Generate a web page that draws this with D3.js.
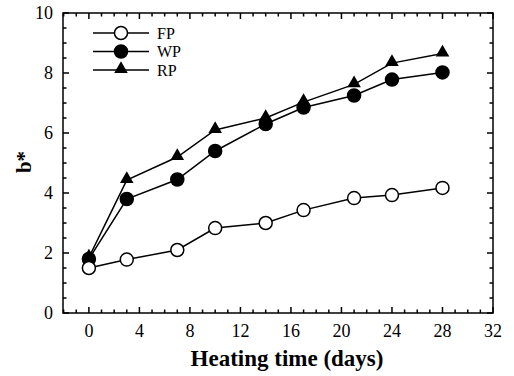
<!DOCTYPE html>
<html>
<head>
<meta charset="utf-8">
<script src="https://cdn.jsdelivr.net/npm/d3@7"></script>
<style>
  body { margin: 0; background: #fff; }
  text { font-family: "Liberation Serif", "DejaVu Serif", serif; fill: #000; }
</style>
</head>
<body>
<div id="chart"></div>
<script>
const days = [0, 3, 7, 10, 14, 17, 21, 24, 28];
const fp = [1.5, 1.78, 2.1, 2.83, 3.0, 3.43, 3.83, 3.93, 4.17];
const wp = [1.8, 3.8, 4.45, 5.4, 6.3, 6.85, 7.25, 7.78, 8.02];
const rp = [1.85, 4.43, 5.2, 6.1, 6.5, 7.03, 7.62, 8.33, 8.65];
const xTicks = [0, 4, 8, 12, 16, 20, 24, 28, 32];
const yTicks = [0, 2, 4, 6, 8, 10];
const seriesNames = ['FP', 'WP', 'RP'];

const width = 514, height = 376;
const margin = { top: 13, right: 21, bottom: 63, left: 63 };
const w = width - margin.left - margin.right;
const h = height - margin.top - margin.bottom;

const svg = d3.select('#chart').append('svg')
  .attr('width', width)
  .attr('height', height);

const x = d3.scaleLinear().domain([-2.05, 32]).range([0, w]);
const y = d3.scaleLinear().domain([0, 10]).range([h, 0]);

const g = svg.append('g')
  .attr('transform', 'translate(' + margin.left + ',' + margin.top + ')');

// frame
g.append('rect')
  .attr('width', w).attr('height', h)
  .attr('fill', 'none').attr('stroke', '#000').attr('stroke-width', 1.5);

// ticks (inward on all sides)
const xMinor = d3.range(-2, 33, 1);
const yMinor = d3.range(0, 10.01, 0.5);
xMinor.forEach(v => {
  const major = v % 4 === 0;
  const len = major ? 6 : 3.5;
  g.append('line').attr('x1', x(v)).attr('x2', x(v)).attr('y1', h).attr('y2', h - len)
    .attr('stroke', '#000').attr('stroke-width', 1.5);
  g.append('line').attr('x1', x(v)).attr('x2', x(v)).attr('y1', 0).attr('y2', len)
    .attr('stroke', '#000').attr('stroke-width', 1.5);
});
yMinor.forEach(v => {
  const major = v % 2 === 0;
  const len = major ? 6 : 3.5;
  g.append('line').attr('x1', 0).attr('x2', len).attr('y1', y(v)).attr('y2', y(v))
    .attr('stroke', '#000').attr('stroke-width', 1.5);
  g.append('line').attr('x1', w).attr('x2', w - len).attr('y1', y(v)).attr('y2', y(v))
    .attr('stroke', '#000').attr('stroke-width', 1.5);
});

// tick labels
g.selectAll('.xl').data(xTicks).enter().append('text')
  .attr('x', d => x(d)).attr('y', h + 24)
  .attr('text-anchor', 'middle').attr('font-size', 18)
  .text(d => d);
g.selectAll('.yl').data(yTicks).enter().append('text')
  .attr('x', -10).attr('y', d => y(d) + 6)
  .attr('text-anchor', 'end').attr('font-size', 18)
  .text(d => d);

// axis titles
svg.append('text')
  .attr('x', 287).attr('y', 366)
  .attr('text-anchor', 'middle').attr('font-size', 23).attr('font-weight', 'bold')
  .text('Heating time (days)');
svg.append('text')
  .attr('transform', 'translate(31,' + (margin.top + y(5) - 1) + ') rotate(-90)')
  .attr('text-anchor', 'middle').attr('font-size', 21).attr('font-weight', 'bold')
  .text('b*');

const line = d3.line().x((d, i) => x(days[i])).y(d => y(d));
const tri = d3.symbol().type(d3.symbolTriangle).size(80);

function drawMarker(sel, type, cx, cy) {
  if (type === 'tri') {
    sel.append('path').attr('d', tri())
      .attr('transform', 'translate(' + cx + ',' + (cy - 1) + ')')
      .attr('fill', '#000');
  } else {
    sel.append('circle').attr('cx', cx).attr('cy', cy).attr('r', 6.5)
      .attr('fill', type === 'open' ? '#fff' : '#000')
      .attr('stroke', '#000').attr('stroke-width', 1.5);
  }
}

const series = [
  { data: fp, type: 'open' },
  { data: wp, type: 'filled' },
  { data: rp, type: 'tri' }
];

// draw RP first so circles of FP sit on top
[series[2], series[1], series[0]].forEach(s => {
  g.append('path').datum(s.data).attr('d', line)
    .attr('fill', 'none').attr('stroke', '#000').attr('stroke-width', 1.5);
  s.data.forEach((v, i) => drawMarker(g, s.type, x(days[i]), y(v)));
});

// legend
const legY = [33, 51.5, 70];
series.forEach((s, i) => {
  const ly = legY[i] - margin.top;
  g.append('line').attr('x1', 30).attr('x2', 86).attr('y1', ly).attr('y2', ly)
    .attr('stroke', '#000').attr('stroke-width', 1.5);
  drawMarker(g, s.type, 58, ly);
  g.append('text').attr('x', 94).attr('y', ly + 5.5)
    .attr('font-size', 16).text(seriesNames[i]);
});
</script>
</body>
</html>
